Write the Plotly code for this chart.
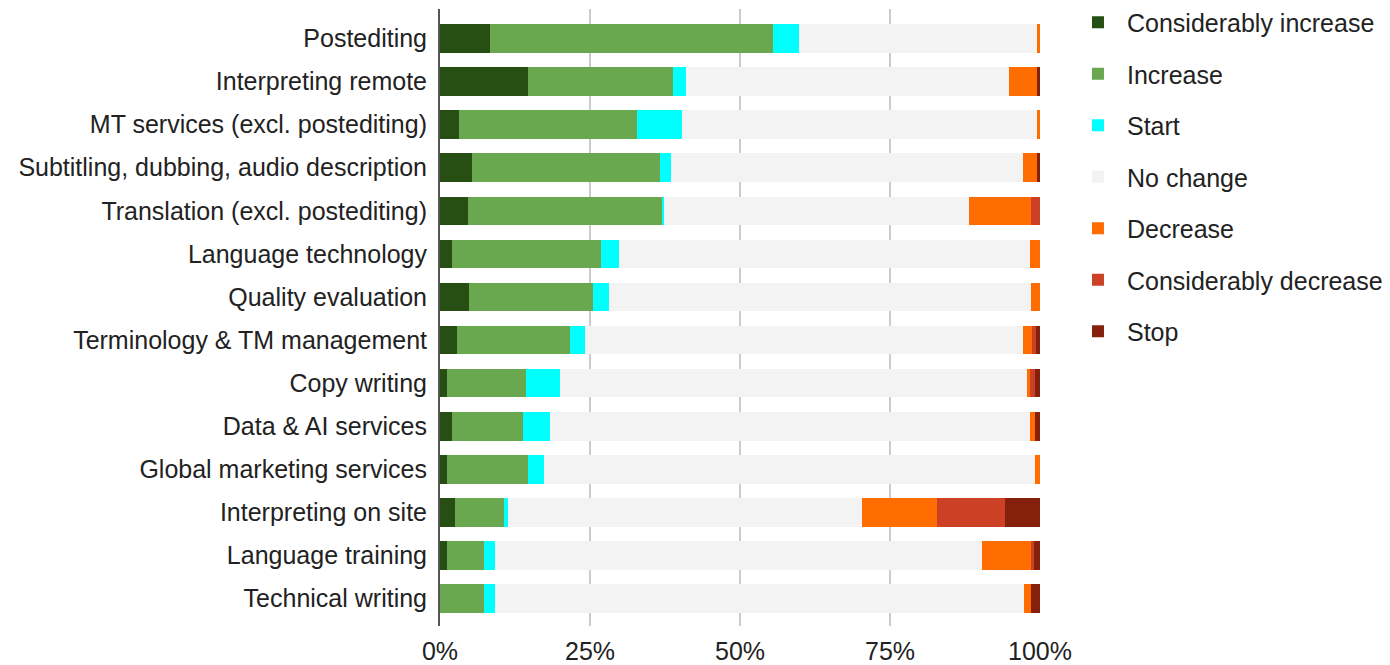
import plotly.graph_objects as go

categories = [
    'Postediting', 'Interpreting remote', 'MT services (excl. postediting)',
    'Subtitling, dubbing, audio description', 'Translation (excl. postediting)',
    'Language technology', 'Quality evaluation', 'Terminology & TM management',
    'Copy writing', 'Data & AI services', 'Global marketing services',
    'Interpreting on site', 'Language training', 'Technical writing',
]

considerably_increase = [8.4, 14.6, 3.2, 5.3, 4.6, 2.0, 4.9, 2.8, 1.1, 2.0, 1.1, 2.5, 1.1, 0.0]
increase = [47.1, 24.2, 29.7, 31.4, 32.4, 24.9, 20.6, 18.9, 13.2, 11.8, 13.5, 8.2, 6.3, 7.4]
start = [4.4, 2.2, 7.4, 1.8, 0.3, 2.9, 2.6, 2.4, 5.7, 4.6, 2.8, 0.7, 1.8, 1.8]
no_change = [39.6, 53.9, 59.2, 58.6, 50.8, 68.6, 70.4, 73.1, 77.8, 80.0, 81.8, 58.9, 81.1, 88.2]
decrease = [0.5, 4.6, 0.5, 2.4, 10.4, 1.6, 1.5, 1.4, 0.5, 0.7, 0.8, 12.5, 8.2, 1.1]
considerably_decrease = [0, 0, 0, 0, 1.5, 0, 0, 0.8, 0.9, 0, 0, 11.3, 0.5, 0]
stop = [0, 0.5, 0, 0.5, 0, 0, 0, 0.6, 0.8, 0.9, 0, 5.9, 1.0, 1.5]

x_tickvals = [0, 25, 50, 75, 100]
x_ticktext = ['0%', '25%', '50%', '75%', '100%']

series = [
    ('Considerably increase', considerably_increase, '#274e13'),
    ('Increase', increase, '#6aa84f'),
    ('Start', start, '#00ffff'),
    ('No change', no_change, '#f3f3f3'),
    ('Decrease', decrease, '#ff6d01'),
    ('Considerably decrease', considerably_decrease, '#cc4125'),
    ('Stop', stop, '#85200c'),
]

fig = go.Figure()
for name, vals, color in series:
    fig.add_trace(go.Bar(
        y=categories, x=vals, name=name, orientation='h',
        marker=dict(color=color, line=dict(width=0)),
        legendgroup=name,
    ))

font_family = 'Liberation Sans, Arial, sans-serif'

# page body has an 8px margin, so the figure is sized to the visible area;
# autoexpand off so the legend / tick labels don't push the plot around
fig.update_layout(
    barmode='stack',
    bargap=0.34,
    width=1382, height=657,
    margin=dict(l=432, r=350, t=1, b=39, autoexpand=False),
    plot_bgcolor='white', paper_bgcolor='white',
    font=dict(family=font_family, size=25, color='#222222'),
    legend=dict(
        x=1.0483, xanchor='left', xref='paper',
        y=0.44, yanchor='bottom',
        traceorder='grouped', tracegroupgap=16,
        itemwidth=48,
        font=dict(size=25, color='#222222'),
        bgcolor='rgba(0,0,0,0)',
    ),
    showlegend=True,
)
fig.update_xaxes(
    range=[0, 100], tickmode='array', tickvals=x_tickvals, ticktext=x_ticktext,
    showgrid=True, gridcolor='#cccccc', gridwidth=1.5,
    zeroline=False, showline=False,
    ticks='', ticklabelstandoff=8,
)
fig.update_yaxes(
    type='category', categoryorder='array', categoryarray=categories,
    range=[13.634, -0.682],
    showgrid=False, zeroline=False,
    showline=True, linecolor='#555555', linewidth=2,
    ticks='', ticklabelstandoff=6,
)

fig.write_html('out.html')
